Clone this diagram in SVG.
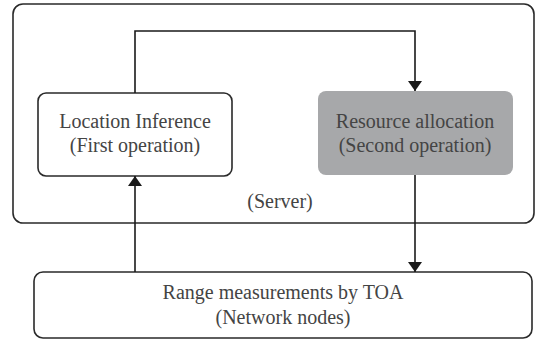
<svg xmlns="http://www.w3.org/2000/svg" width="537" height="341" viewBox="0 0 537 341">
<style>
.box{fill:#fff;stroke:#2a2a2a;stroke-width:1.6}
.t{font-family:"Liberation Serif","Times New Roman",serif;font-size:20px;fill:#444;text-anchor:middle}
.c{fill:none;stroke:#1a1a1a;stroke-width:1.6}
</style>
<defs>
<marker id="ah" viewBox="0 0 10 14" refX="10" refY="7" markerWidth="10" markerHeight="14" markerUnits="userSpaceOnUse" orient="auto">
<path d="M0,0 L10,7 L0,14 Z" fill="#1a1a1a"/>
</marker>
</defs>
<g id="server">
<rect class="box" x="13" y="4" width="521" height="219" rx="10"/>
<text class="t" x="280" y="208">(Server)</text>
</g>
<g id="location">
<rect class="box" x="38" y="93" width="194" height="83" rx="8"/>
<text class="t" x="135" y="128">Location Inference</text>
<text class="t" x="135" y="152">(First operation)</text>
</g>
<g id="resource">
<rect x="318" y="91" width="195" height="84" rx="8" fill="#a7a8aa"/>
<text class="t" x="415" y="128">Resource allocation</text>
<text class="t" x="415" y="152">(Second operation)</text>
</g>
<g id="range">
<rect class="box" x="34" y="272" width="498" height="66" rx="9"/>
<text class="t" x="283" y="299">Range measurements by TOA</text>
<text class="t" x="283" y="324">(Network nodes)</text>
</g>
<g id="connectors">
<path class="c" d="M135,93 V31 H415 V91" marker-end="url(#ah)"/>
<path class="c" d="M415,175 V272" marker-end="url(#ah)"/>
<path class="c" d="M135,272 V176" marker-end="url(#ah)"/>
</g>
</svg>
